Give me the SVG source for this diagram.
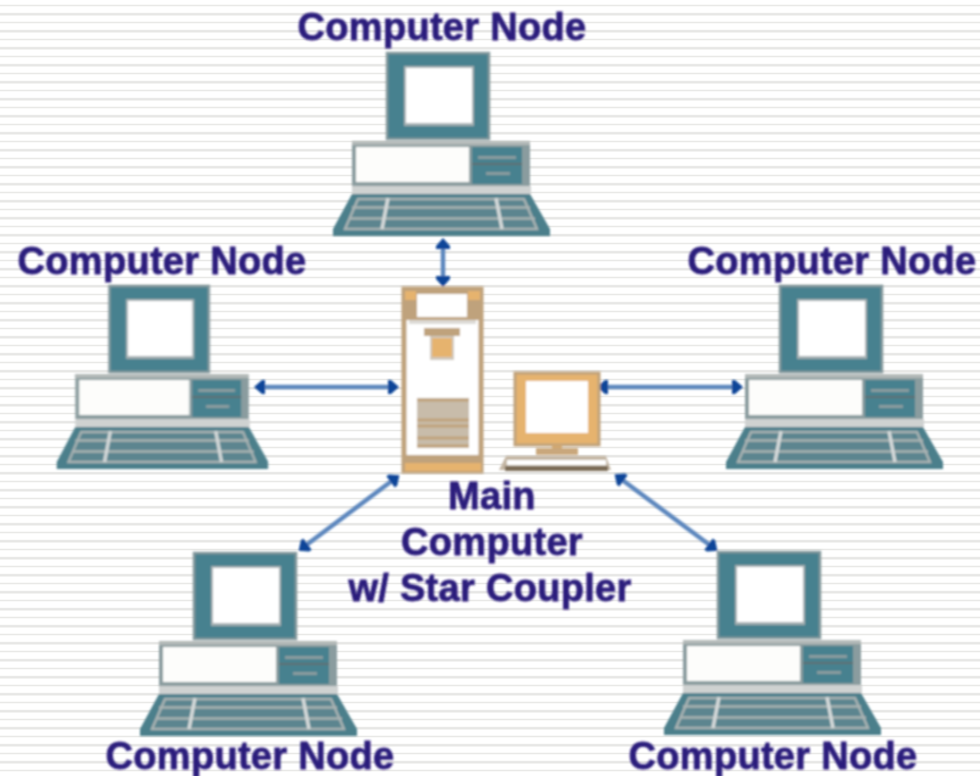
<svg xmlns="http://www.w3.org/2000/svg" width="980" height="776" viewBox="0 0 980 776">
<style>
.lbl{font-family:"Liberation Sans",Arial,sans-serif;font-weight:700;font-size:38px;letter-spacing:.3px;fill:#2b1c7c;text-anchor:middle;stroke:#2b1c7c;stroke-width:.8}
.conn{stroke:#5b86bd;stroke-width:4.5;fill:none;marker-start:url(#ah);marker-end:url(#ah)}
.tan{fill:#bfa27c}.org{fill:#e6b36e}
</style>
<defs>
<filter id="soft" x="-5%" y="-5%" width="110%" height="110%"><feGaussianBlur stdDeviation="1"/></filter>
<pattern id="stripes" width="17" height="17" patternUnits="userSpaceOnUse">
<rect width="17" height="17" fill="#fff"/>
<rect y="4.400" width="17" height="2.200" fill="#f6f6f5"/>
<rect y="5" width="17" height="1" fill="#e9e9e7"/>
<rect y="12.600" width="17" height="3.200" fill="#f5f5f4"/>
<rect y="13.200" width="17" height="2" fill="#e7e7e5"/>
</pattern>
<marker id="ah" viewBox="-9 -9 18 18" markerUnits="userSpaceOnUse" markerWidth="18" markerHeight="18" orient="auto-start-reverse" refX="0" refY="0">
<path d="M8 0L0 -7L-3 -7V7L0 7Z" fill="#0a4598"/>
</marker>
<g id="pc">
<rect x="387" y="53" width="102" height="86" fill="#47818f" stroke="#85999d" stroke-width="2.500"/>
<rect x="404" y="66" width="70" height="60" fill="#a3afb1"/>
<rect x="406" y="68" width="66" height="55" fill="#fff"/>
<rect x="352" y="141" width="178" height="45" fill="#8a9c9f"/>
<rect x="352" y="141" width="178" height="4" fill="#b3b9b8"/>
<rect x="356" y="147" width="113" height="35" fill="#fdfdfb"/>
<rect x="472" y="147" width="50" height="37" fill="#47818f"/>
<rect x="478" y="156" width="38" height="3" fill="#8a9c9f"/>
<rect x="486" y="172" width="24" height="3" fill="#8a9c9f"/>
<rect x="472" y="163" width="50" height="2" fill="#5f6f72"/>
<rect x="352" y="186" width="179" height="8" fill="#cfd2d1"/>
<path d="M352 194H530L550 229V236H333V229Z" fill="#4c7f8b"/>
<path d="M358 199H524L537 229H345Z" fill="#5c858f" stroke="#a9b3b3" stroke-width="2.500"/>
<path d="M352 207.500H530M349 218.500H535" stroke="#a9b3b3" stroke-width="2.500" fill="none"/>
<path d="M388 198L382 229M496 198L502 229" stroke="#d6dada" stroke-width="3.500" fill="none"/>
</g>
</defs>
<rect width="980" height="776" fill="url(#stripes)"/>
<g filter="url(#soft)">
<g id="connectors">
<path class="conn" d="M443 246V279"/>
<path class="conn" d="M262 387H391"/>
<path class="conn" d="M605 387H735"/>
<path class="conn" d="M393 480L305 546"/>
<path class="conn" d="M621 479L711 546"/>
</g>
<g id="node-top"><use href="#pc"/><text class="lbl" x="442" y="40">Computer Node</text></g>
<g id="node-left"><use href="#pc" transform="translate(-279 233) translate(442 0) scale(.975 1) translate(-442 0)"/><text class="lbl" x="162" y="274">Computer Node</text></g>
<g id="node-right"><use href="#pc" transform="translate(393 233)"/><text class="lbl" x="832" y="274">Computer Node</text></g>
<g id="node-bottom-left"><use href="#pc" transform="translate(-193 500)"/><text class="lbl" x="250" y="769">Computer Node</text></g>
<g id="node-bottom-right"><use href="#pc" transform="translate(331 499)"/><text class="lbl" x="773" y="769">Computer Node</text></g>
<g id="main-computer">
<rect x="404" y="289" width="77" height="182" fill="#fff" stroke="#bfa27c" stroke-width="5"/>
<rect x="403" y="288" width="79" height="32" fill="#bfa27c"/>
<rect x="405" y="291" width="11" height="9" class="org"/><rect x="468" y="291" width="12" height="9" class="org"/>
<rect x="417" y="294" width="50" height="23" fill="#fff"/>
<rect x="409" y="320" width="67" height="4" fill="#dcdad5"/>
<rect x="424" y="328" width="36" height="8" class="tan"/>
<rect x="430" y="336" width="24" height="24" fill="#cfc8bc"/>
<rect x="432" y="338" width="20" height="19" class="org"/>
<rect x="417" y="398" width="52" height="50" fill="#c8bcaa"/>
<path d="M417 400H469M417 420H469M417 426H469M417 438H469M417 446H469" stroke="#bfa27c" stroke-width="3" fill="none"/>
<rect x="403" y="455" width="79" height="17" fill="#bfa27c"/>
<rect x="405" y="463" width="76" height="8" class="org"/>
<rect x="515" y="373" width="84" height="72" fill="#e6b36e" stroke="#bfa27c" stroke-width="3"/>
<rect x="526" y="381" width="62" height="52" fill="#fff"/>
<rect x="552" y="445" width="10" height="6" fill="#d2a86f"/>
<rect x="536" y="448" width="42" height="7" fill="#c9a77c"/>
<path d="M506 456H606L611 470H499Z" fill="#c3b5a3"/>
<rect x="507" y="460" width="99" height="5" fill="#fff"/>
<rect x="505" y="466" width="103" height="5" fill="#7a6a55"/>
<text class="lbl" x="492" y="509">Main</text>
<text class="lbl" x="492" y="555">Computer</text>
<text class="lbl" x="490" y="601">w/ Star Coupler</text>
</g>
</g>
</svg>
